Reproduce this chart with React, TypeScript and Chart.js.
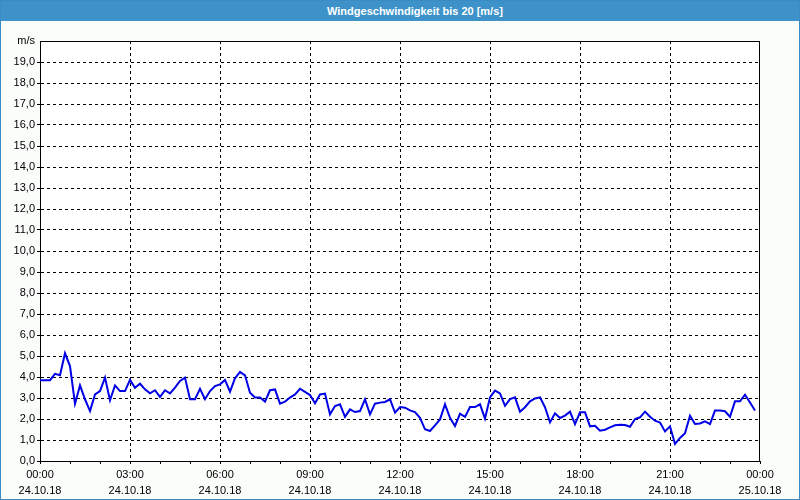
import React, { useEffect, useRef } from "react";
import { Chart, registerables } from "chart.js";

Chart.register(...registerables);

const chartTitle = "Windgeschwindigkeit bis 20 [m/s]";
const yUnit = "m/s";
const tickTimes = ["00:00", "03:00", "06:00", "09:00", "12:00", "15:00", "18:00", "21:00", "00:00"];
const tickDates = ["24.10.18", "24.10.18", "24.10.18", "24.10.18", "24.10.18", "24.10.18", "24.10.18", "24.10.18", "25.10.18"];
// 10-minute samples, 24.10.18 00:00 .. 23:50
const windSpeed = [
  3.85, 3.85, 3.85, 4.15, 4.08, 5.13, 4.52, 2.73, 3.6, 2.94, 2.38, 3.17,
  3.33, 3.97, 2.89, 3.6, 3.33, 3.33, 3.86, 3.49, 3.68, 3.41, 3.22, 3.37,
  3.05, 3.37, 3.22, 3.49, 3.81, 3.97, 2.94, 2.94, 3.44, 2.94, 3.33, 3.57,
  3.65, 3.86, 3.3, 3.94, 4.24, 4.08, 3.25, 3.02, 3.02, 2.83, 3.37, 3.41,
  2.73, 2.83, 3.02, 3.17, 3.44, 3.29, 3.14, 2.75, 3.17, 3.21, 2.22, 2.62,
  2.7, 2.1, 2.46, 2.33, 2.38, 2.94, 2.22, 2.73, 2.78, 2.81, 2.94, 2.3,
  2.57, 2.54, 2.41, 2.33, 2.06, 1.51, 1.43, 1.7, 1.98, 2.7, 2.06, 1.67,
  2.25, 2.1, 2.57, 2.57, 2.7, 2.02, 3.03, 3.35, 3.22, 2.63, 2.95, 3.03,
  2.35, 2.56, 2.84, 2.98, 3.03, 2.56, 1.84, 2.27, 2.05, 2.16, 2.35, 1.76,
  2.32, 2.32, 1.65, 1.68, 1.44, 1.49, 1.6, 1.7, 1.73, 1.71, 1.63, 2.0,
  2.08, 2.35, 2.11, 1.92, 1.83, 1.41, 1.65, 0.81, 1.1, 1.32, 2.16, 1.76,
  1.79, 1.89, 1.76, 2.4, 2.4, 2.37, 2.11, 2.84, 2.84, 3.16, 2.79, 2.4,
];
const samplesPerTick = 18; // 3 hours
const samplesPerHour = 6;
const totalSamples = 144;

const frameAndBg = {
  id: "frameAndBg",
  beforeDraw(chart: any) {
    const { ctx, chartArea } = chart;
    ctx.save();
    ctx.fillStyle = "#ffffff";
    ctx.fillRect(chartArea.left, chartArea.top, chartArea.right - chartArea.left, chartArea.bottom - chartArea.top);
    ctx.restore();
  },
  beforeDatasetsDraw(chart: any) {
    const { ctx, chartArea } = chart;
    ctx.save();
    ctx.strokeStyle = "#000";
    ctx.lineWidth = 1;
    ctx.setLineDash([]);
    ctx.strokeRect(chartArea.left + 0.5, chartArea.top + 0.5, chartArea.right - chartArea.left - 1, chartArea.bottom - chartArea.top);
    ctx.restore();
  },
};

export default function App() {
  const ref = useRef<HTMLCanvasElement | null>(null);
  useEffect(() => {
    if (!ref.current) return;
    const font = { family: "'Liberation Sans', Arial, sans-serif", size: 11 };
    const chart = new Chart(ref.current, {
      type: "line",
      data: {
        datasets: [
          {
            data: windSpeed.map((v, i) => ({ x: i, y: v })),
            borderColor: "#0000e6",
            borderWidth: 2,
            pointRadius: 0,
            tension: 0,
            fill: false,
          },
        ],
      },
      options: {
        animation: false,
        responsive: false,
        maintainAspectRatio: false,
        layout: { padding: { left: 0, top: 41, right: 40, bottom: 0 } },
        plugins: { legend: { display: false }, tooltip: { enabled: false }, title: { display: false } },
        scales: {
          x: {
            type: "linear",
            min: 0,
            max: totalSamples,
            afterFit: (s: any) => { s.height = 39; },
            ticks: {
              stepSize: samplesPerHour,
              autoSkip: false,
              maxRotation: 0,
              padding: 3,
              color: "#000",
              font: { ...font, lineHeight: 1.45 },
              callback: (v: any) => {
                const n = Number(v);
                if (n % samplesPerTick !== 0) return "";
                const k = n / samplesPerTick;
                return [tickTimes[k], tickDates[k]];
              },
            },
            grid: {
              color: (c: any) => {
                const v = c.tick ? c.tick.value : -1;
                return v % samplesPerTick === 0 && v > 0 && v < totalSamples ? "#000" : "rgba(0,0,0,0)";
              },
              tickColor: "#000",
              tickLength: 3,
              lineWidth: 1,
            },
            border: { display: true, color: "#000", width: 1, dash: [3, 3] },
          },
          y: {
            type: "linear",
            min: 0,
            max: 20,
            afterFit: (s: any) => { s.width = 40; },
            ticks: {
              stepSize: 1,
              autoSkip: false,
              padding: 2,
              color: "#000",
              font,
              callback: (v: any) => (Number(v) === 20 ? yUnit : Number(v).toFixed(1).replace(".", ",")),
            },
            grid: {
              color: (c: any) => {
                const v = c.tick ? c.tick.value : -1;
                return v > 0 && v < 20 ? "#000" : "rgba(0,0,0,0)";
              },
              tickColor: (c: any) => (c.tick && c.tick.value === 20 ? "rgba(0,0,0,0)" : "#000"),
              tickLength: 3,
              lineWidth: 1,
            },
            border: { display: true, color: "#000", width: 1, dash: [3, 3] },
          },
        },
      },
      plugins: [frameAndBg],
    } as any);
    return () => chart.destroy();
  }, []);

  return (
    <div
      style={{
        position: "fixed",
        left: 0,
        top: 0,
        width: 800,
        height: 500,
        boxSizing: "border-box",
        border: "1px solid #3b8cc4",
        background: "#fbfdfb",
        overflow: "hidden",
      }}
    >
      <div
        style={{
          height: 20,
          background: "#3d93c9",
          color: "#fff",
          font: "bold 11px 'Liberation Sans', Arial, sans-serif",
          lineHeight: "20px",
          textAlign: "center",
          paddingLeft: 30,
        }}
      >
        {chartTitle}
      </div>
      <canvas
        ref={ref}
        width={800}
        height={500}
        style={{ position: "absolute", left: -1, top: -1, width: 800, height: 500 }}
      />
    </div>
  );
}
